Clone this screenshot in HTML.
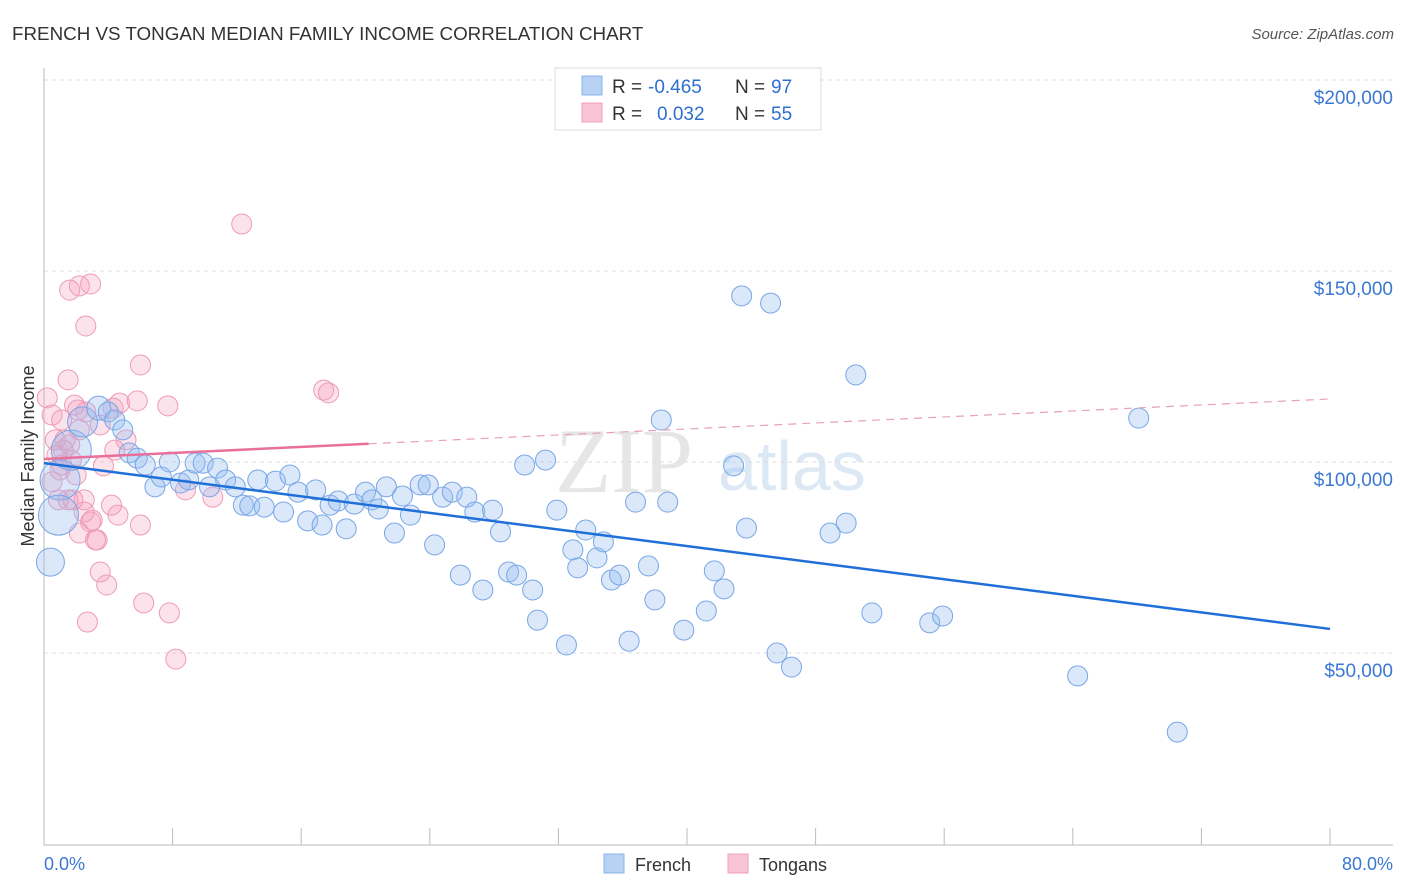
<!DOCTYPE html>
<html><head><meta charset="utf-8"><style>
body{margin:0;background:#fff;font-family:"Liberation Sans",sans-serif}
svg{display:block}
</style></head><body>
<svg id="c" width="1406" height="892" xmlns="http://www.w3.org/2000/svg">
<text x="12" y="40" font-size="18.8" fill="#333">FRENCH VS TONGAN MEDIAN FAMILY INCOME CORRELATION CHART</text>
<text x="1394" y="39" font-size="15" fill="#555" font-style="italic" text-anchor="end">Source: ZipAtlas.com</text>
<g><text x="555" y="492" font-size="92" fill="#e6e6e6" font-family="Liberation Serif,serif">ZIP</text><text x="718" y="490" font-size="70" fill="#dde8f5">atlas</text></g>
<g id="grid"></g><g id="pts"></g><g id="lines"></g>
<text transform="translate(34,456) rotate(-90)" font-size="18" fill="#333" text-anchor="middle">Median Family Income</text>
<text x="44" y="870" font-size="18" fill="#3a78d4">0.0%</text>
<text x="1393" y="870" font-size="18" fill="#3a78d4" text-anchor="end">80.0%</text>
<g>
<rect x="555" y="68" width="266" height="62" fill="#fff" stroke="#ddd"/>
<rect x="582" y="76" width="20" height="19" fill="#b7d2f3" stroke="#8ab4ea"/>
<text x="612" y="93" font-size="19" fill="#333">R =</text><text x="648" y="93" font-size="19" fill="#2f6fd0">-0.465</text>
<text x="735" y="93" font-size="19" fill="#333">N =</text><text x="771" y="93" font-size="19" fill="#2f6fd0">97</text>
<rect x="582" y="103" width="20" height="19" fill="#f9c4d5" stroke="#f0a0ba"/>
<text x="612" y="120" font-size="19" fill="#333">R =</text><text x="657" y="120" font-size="19" fill="#2f6fd0">0.032</text>
<text x="735" y="120" font-size="19" fill="#333">N =</text><text x="771" y="120" font-size="19" fill="#2f6fd0">55</text>
</g>
<g><rect x="604" y="854" width="20" height="19" fill="#b7d2f3" stroke="#8ab4ea"/><text x="635" y="871" font-size="18" fill="#333">French</text></g>
<g><rect x="728" y="854" width="20" height="19" fill="#f9c4d5" stroke="#f0a0ba"/><text x="759" y="871" font-size="18" fill="#333">Tongans</text></g>
</svg>
<script>
const yTicks=[50000,100000,150000,200000];
const yTickLabels=["$50,000","$100,000","$150,000","$200,000"];
const xTicks=[0,8,16,24,32,40,48,56,64,72,80];
const frenchX=[1.0,0.9,0.4,1.7,2.4,3.4,4.0,4.4,4.9,5.3,5.8,6.3,6.9,7.3,7.8,8.5,9.0,9.4,9.9,10.3,10.8,11.3,11.9,12.4,12.8,13.3,13.7,14.4,14.9,15.3,15.8,16.4,16.9,17.3,17.8,18.3,18.8,19.3,20.0,20.4,20.8,21.3,21.8,22.3,22.8,23.4,23.9,24.3,24.8,25.4,25.9,26.3,26.8,27.3,27.9,28.4,28.9,29.4,29.9,30.4,30.7,31.2,31.9,32.5,32.9,33.2,33.7,34.4,34.8,35.3,35.8,36.4,36.8,37.6,38.0,38.4,38.8,39.8,41.2,41.7,42.3,42.9,43.4,43.7,45.2,45.6,46.5,48.9,49.9,50.5,51.5,55.1,55.9,64.3,68.1,70.5];
const frenchY=[95.3,86.1,73.8,103.1,110.5,114.1,113.1,111.0,108.4,102.4,101.0,99.2,93.5,96.1,100.0,94.5,95.3,99.7,99.7,93.5,98.4,95.3,93.5,88.7,88.5,95.3,88.2,95.0,86.9,96.6,92.1,84.6,92.7,83.5,88.7,89.8,82.5,89.0,92.1,90.1,87.7,93.5,81.4,91.1,86.1,94.0,94.0,78.3,90.8,92.1,70.4,90.8,86.9,66.5,87.4,81.7,71.2,70.4,99.2,66.5,58.6,100.5,87.4,52.1,77.0,72.3,82.2,74.9,79.1,69.1,70.4,53.1,89.5,72.8,63.9,111.0,89.5,56.0,61.0,71.5,66.8,99.0,143.5,82.7,141.6,50.0,46.3,81.4,84.0,122.8,60.5,57.9,59.7,44.0,111.5,29.3];
const frenchSize=[2,2,1.4,2,1.5,1.2];
const tonganX=[0.2,0.5,0.7,0.8,1.0,1.1,1.3,1.5,1.6,1.7,1.9,2.1,2.2,2.5,2.6,1.6,2.2,2.9,2.6,1.1,2.0,2.2,2.5,2.9,3.0,3.3,3.5,2.7,3.7,3.9,4.2,4.3,4.4,4.6,4.7,5.1,5.8,6.0,6.0,6.2,7.7,7.8,8.2,8.8,10.5,12.3,17.4,17.7,0.9,1.2,3.2,3.5,1.8,1.5,0.5];
const tonganY=[116.8,112.3,105.8,101.8,97.9,111.0,105.8,121.5,104.5,100.5,114.9,113.6,108.4,90.1,113.1,145.0,146.1,146.6,135.6,99.2,96.6,81.4,86.9,84.3,84.8,79.6,71.2,58.1,99.0,67.8,88.7,114.1,103.1,86.1,115.4,105.8,116.0,125.4,83.5,63.1,114.7,60.5,48.4,92.7,90.8,162.3,118.8,118.1,90.1,103.1,79.6,109.7,90.1,90.1,94.8];
const frenchTrend=[99.7,56.3];
const tonganTrend=[100.8,116.5];
const tonganSolidEnd=20.2;
const NS="http://www.w3.org/2000/svg";
const X=p=>44+p/80*1286, Y=k=>844-k/200*764;
function mk(t,a,p){const e=document.createElementNS(NS,t);for(const k in a)e.setAttribute(k,a[k]);p.appendChild(e);return e;}
const g=document.getElementById('grid');
yTicks.forEach((v,i)=>{const y=Y(v/1000);
const l=mk('line',{x1:44,x2:1393,y1:y,y2:y,stroke:'#ddd','stroke-dasharray':'4,4'},g);

const t=mk('text',{x:1393,y:y+24,'font-size':19,fill:'#3a78d4','text-anchor':'end'},g);t.textContent=yTickLabels[i];
});
const ax=mk('line',{x1:44,x2:44,y1:68,y2:845,stroke:'#bbb'},g);
const bx=mk('line',{x1:44,x2:1393,y1:845,y2:845,stroke:'#bbb'},g);
xTicks.forEach(v=>{const x=X(v);const t=mk('line',{x1:x,x2:x,y1:828,y2:845,stroke:'#bbb'},g);
});
const pg=document.getElementById('pts');
tonganX.forEach((v,i)=>{const c=mk('circle',{cx:X(v),cy:Y(tonganY[i]),r:10,fill:'rgba(245,160,190,0.3)',stroke:'#ee9ab6','stroke-width':1},pg);
});
frenchX.forEach((v,i)=>{const c=mk('circle',{cx:X(v),cy:Y(frenchY[i]),r:10*(frenchSize[i]||1),fill:'rgba(150,190,240,0.35)',stroke:'#78a6e6','stroke-width':1},pg);
});
const lg=document.getElementById('lines');
const fl=mk('line',{x1:X(0),y1:Y(frenchTrend[0]),x2:X(80),y2:Y(frenchTrend[1]),stroke:'#1f6fd9','stroke-width':2.5},lg);

const tm=tonganTrend[0]+(tonganTrend[1]-tonganTrend[0])*tonganSolidEnd/80;
const tl=mk('line',{x1:X(0),y1:Y(tonganTrend[0]),x2:X(tonganSolidEnd),y2:Y(tm),stroke:'#e8709a','stroke-width':2.5},lg);

const td=mk('line',{x1:X(tonganSolidEnd),y1:Y(tm),x2:X(80),y2:Y(tonganTrend[1]),stroke:'#e8a0b8','stroke-width':1.2,'stroke-dasharray':'8,6'},lg);

</script>
</body></html>
